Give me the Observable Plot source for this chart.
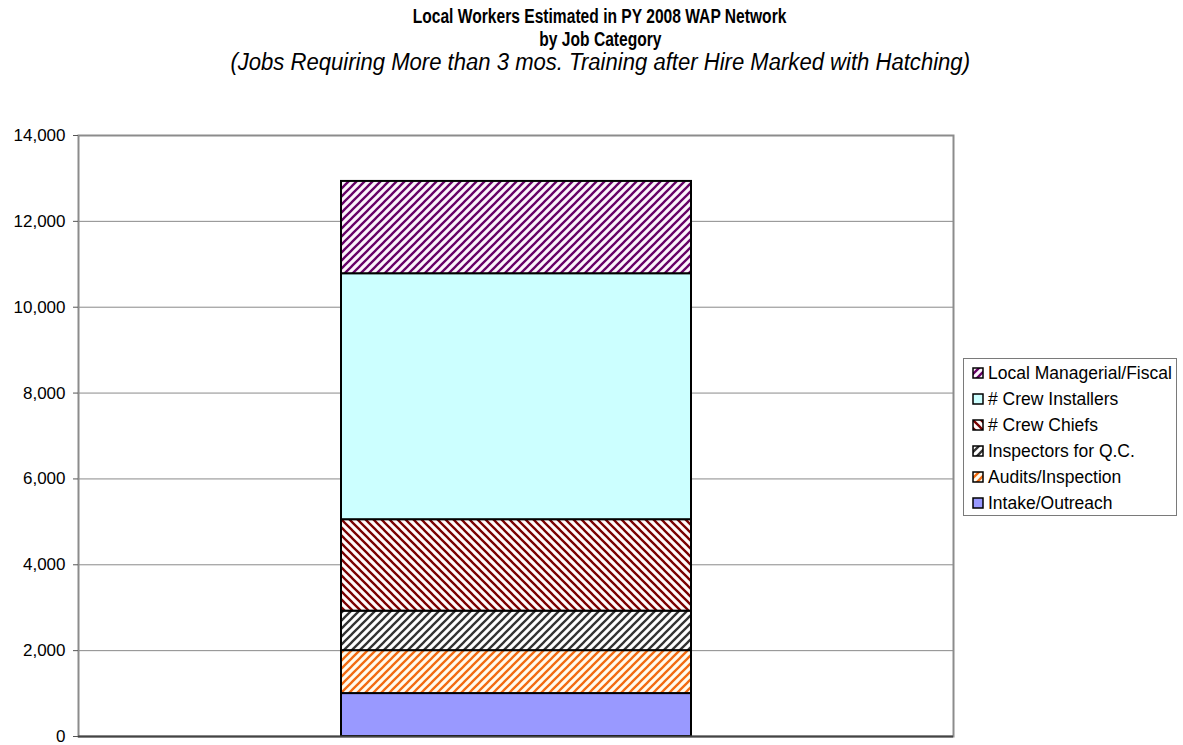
<!DOCTYPE html>
<html>
<head>
<meta charset="utf-8">
<script src="https://cdn.jsdelivr.net/npm/d3@7"></script>
<script src="https://cdn.jsdelivr.net/npm/@observablehq/plot@0.6"></script>
<style>
  body { margin: 0; background: #fff; font-family: "Liberation Sans", Arial, sans-serif; }
  #page { position: relative; width: 1183px; height: 745px; overflow: hidden; }
  #titles { height: 98px; width: 1200px; text-align: center; padding-top: 5px; box-sizing: border-box;
            font-family: "Liberation Sans", Arial, sans-serif; color: #000; }
  #titles div { white-space: nowrap; }
  #titles span { display: inline-block; }
  #titles .t { font-weight: bold; font-size: 19.5px; line-height: 22.5px; }
  #titles .t span { transform: scaleX(0.8); }
  #titles .s { font-style: italic; font-size: 23px; line-height: 24px; }
  #titles .s span { transform: scaleX(0.96); }
  #legend { position: absolute; left: 963px; top: 358px; width: 214px; height: 158px; box-sizing: border-box;
            border: 1px solid #7a7a7a; padding-top: 1px; font-size: 17.5px; color: #000; }
  #legend .item { display: flex; align-items: center; height: 26px; padding-left: 8px; white-space: nowrap; }
  #legend svg { margin-right: 4px; flex: none; }
</style>
</head>
<body>
<div id="page">
  <div id="titles">
    <div class="t"><span>Local Workers Estimated in PY 2008 WAP Network</span></div>
    <div class="t"><span>by Job Category</span></div>
    <div class="s"><span>(Jobs Requiring More than 3 mos. Training after Hire Marked with Hatching)</span></div>
  </div>
  <div id="chart"></div>
  <div id="legend"></div>
</div>
<script>
// Job categories, bottom of the stack first
const categories = [
  "Intake/Outreach",
  "Audits/Inspection",
  "Inspectors for Q.C.",
  "# Crew Chiefs",
  "# Crew Installers",
  "Local Managerial/Fiscal"
];
// Estimated number of local workers in each category
const workers = [1000, 1000, 920, 2130, 5730, 2150];
// Value axis ticks
const yTicks = [0, 2000, 4000, 6000, 8000, 10000, 12000, 14000];

// Fill of each category: a solid colour, or a diagonal hatch ("/" or "\")
const fillStyles = [
  {id: "f-intake",   solid: "#9999ff"},
  {id: "f-audits",   line: "#f26a10", bg: "#fffcef", dir: "up"},
  {id: "f-inspect",  line: "#333333", bg: "#ffffff", dir: "up"},
  {id: "f-chiefs",   line: "#7a0000", bg: "#fffafa", dir: "down"},
  {id: "f-install",  solid: "#ccffff"},
  {id: "f-manager",  line: "#660066", bg: "#fbf4fb", dir: "up"}
];

const paint = s => s.solid ? s.solid : `url(#${s.id})`;
const thousands = d3.format(",.0f");

function patternDefs(prefix = "") {
  const up = "M-2,2 l4,-4 M0,8 l8,-8 M6,10 l4,-4";
  const down = "M-2,6 l4,4 M0,0 l8,8 M6,-2 l4,4";
  return "<defs>" + fillStyles.filter(s => !s.solid).map(s =>
    `<pattern id="${prefix}${s.id}" patternUnits="userSpaceOnUse" width="8" height="8">` +
    `<rect width="8" height="8" fill="${s.bg}"/>` +
    `<path d="${s.dir === "up" ? up : down}" stroke="${s.line}" stroke-width="2.3" fill="none"/>` +
    `</pattern>`).join("") + "</defs>";
}

// One row per stacked segment
const rows = categories.map((c, i) => ({group: "PY 2008", category: c, value: workers[i], fill: paint(fillStyles[i])}));

const chart = Plot.plot({
  width: 960,
  height: 647,
  marginLeft: 78,
  marginRight: 7,
  marginTop: 37,
  marginBottom: 9,
  style: {fontFamily: "'Liberation Sans', Arial, sans-serif", fontSize: "17px", color: "#000", background: "#fff"},
  x: {domain: ["PY 2008"], padding: 0.4286, axis: null},
  y: {domain: [0, 14000], ticks: yTicks, tickFormat: thousands, label: null, tickSize: 5, tickPadding: 8},
  color: {type: "identity"},
  marks: [
    Plot.gridY(yTicks, {stroke: "#8a8a8a", strokeOpacity: 1, strokeWidth: 1}),
    Plot.frame({stroke: "#8c8c8c", strokeWidth: 2}),
    Plot.barY(rows, Plot.stackY({x: "group", y: "value", fill: "fill", stroke: "#000", strokeWidth: 2})),
    Plot.ruleX([0], {frameAnchor: "left", stroke: "#555", strokeWidth: 1.5}),
    Plot.ruleY([0], {stroke: "#444", strokeWidth: 2}),
    Plot.axisY({ticks: yTicks, tickFormat: thousands, tickSize: 5, tickPadding: 8, label: null, stroke: "#555"})
  ]
});
chart.insertAdjacentHTML("afterbegin", patternDefs());
document.getElementById("chart").appendChild(chart);

// Legend: top of the stack first, as in the bar
const legend = document.getElementById("legend");
for (let i = categories.length - 1; i >= 0; i--) {
  const s = fillStyles[i];
  const prefix = "lg" + i + "-";
  const item = document.createElement("div");
  item.className = "item";
  item.innerHTML =
    `<svg width="12" height="12">${patternDefs(prefix)}` +
    `<rect x="1" y="1" width="10" height="10" fill="${s.solid ? s.solid : `url(#${prefix}${s.id})`}" stroke="#000" stroke-width="1.5"/></svg>` +
    `<span>${categories[i]}</span>`;
  legend.appendChild(item);
}
</script>
</body>
</html>
